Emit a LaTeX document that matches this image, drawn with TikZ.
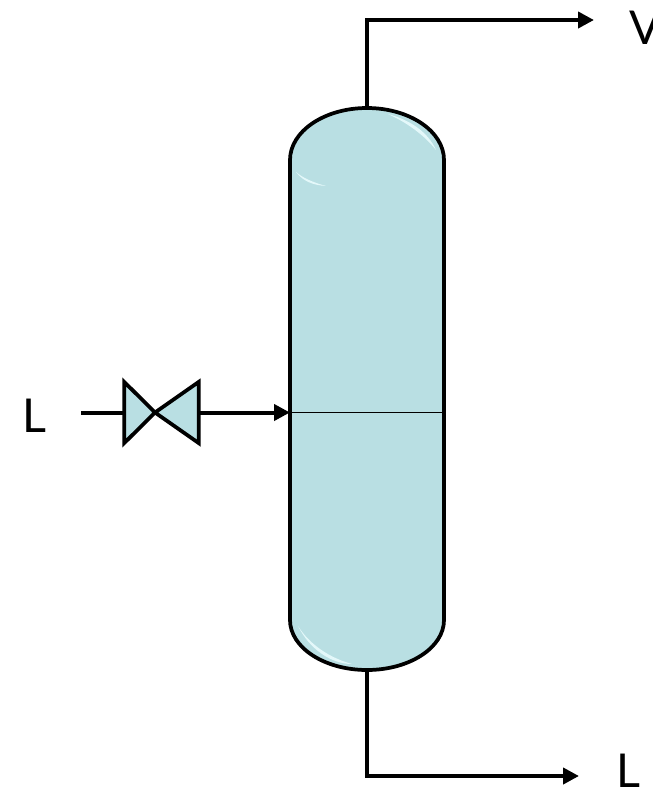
\documentclass[tikz,border=0pt]{standalone}
\usepackage{fontspec}
\setmainfont{Lato}
\usetikzlibrary{arrows.meta}
\definecolor{vesselfill}{HTML}{B9DFE3}
\definecolor{glint}{HTML}{E4F8FA}
\tikzset{
  pipe/.style={line width=3pt, draw=black},
  flow/.style={pipe, -{Triangle[length=12pt,width=12pt]}},
  shell/.style={line width=2.8pt, draw=black, fill=vesselfill},
  valvebody/.style={line width=2.8pt, draw=black, fill=vesselfill, miter limit=10},
  tray/.style={line width=1.1pt, draw=black},
  hidden/.style={inner sep=0pt, outer sep=0pt, draw=none},
  stream/.style={inner sep=0pt, outer sep=0pt, font=\fontsize{35pt}{35pt}\selectfont},
}
\begin{document}
\begin{tikzpicture}[x=0.75pt,y=-0.75pt]
\useasboundingbox (0,0) rectangle (653,790);
\clip (0,0) rectangle (653,790);
\node[hidden, minimum width=56pt, minimum height=46pt] (valve) at (161.5,412.5) {};
\node[hidden, minimum width=115.5pt, minimum height=421.5pt] (vessel) at (367,389) {};
\coordinate (vend) at (594,20);
\coordinate (lend) at (579,776);
\coordinate (feed) at (81,412.5);
\coordinate (trayin) at (290,412.5);
\coordinate (trayend) at (444,412.5);
\coordinate (valvec) at (155,412.5);
% vessel
\draw[shell] (290,160) arc[start angle=180,end angle=360,x radius=77,y radius=52]
  -- (444,620) arc[start angle=0,end angle=180,x radius=77,y radius=50] -- cycle;
% glints
\fill[glint] (388,114) .. controls (410,120) and (428,132) .. (436,150) .. controls (425,136) and (408,123) .. (388,114) -- cycle;
\fill[glint] (296,172) .. controls (303,178) and (312,182) .. (326,186) .. controls (312,185) and (303,181) .. (296,172) -- cycle;
\fill[glint] (298,626) .. controls (310,645) and (330,658) .. (352,664) .. controls (332,664) and (310,650) .. (298,626) -- cycle;
\draw[tray] (trayin) -- (trayend);
% connectors
\draw[flow] (vessel.north) |- (vend);
\draw[flow] (vessel.south) |- (lend);
\draw[pipe] (feed) -- (valve.west);
\draw[flow] (valve.east) -- (trayin);
% valve
\draw[valvebody] (valve.north west) -- (valve.south west) -- (valvec) -- cycle;
\draw[valvebody] (valve.north east) -- (valve.south east) -- (valvec) -- cycle;
% labels
\node[stream, anchor=base west] (labelv) at (629,44) {V};
\node[stream, anchor=base west] (labellin) at (22,432) {L};
\node[stream, anchor=base west] (labellout) at (616,787) {L};
\end{tikzpicture}
\end{document}
